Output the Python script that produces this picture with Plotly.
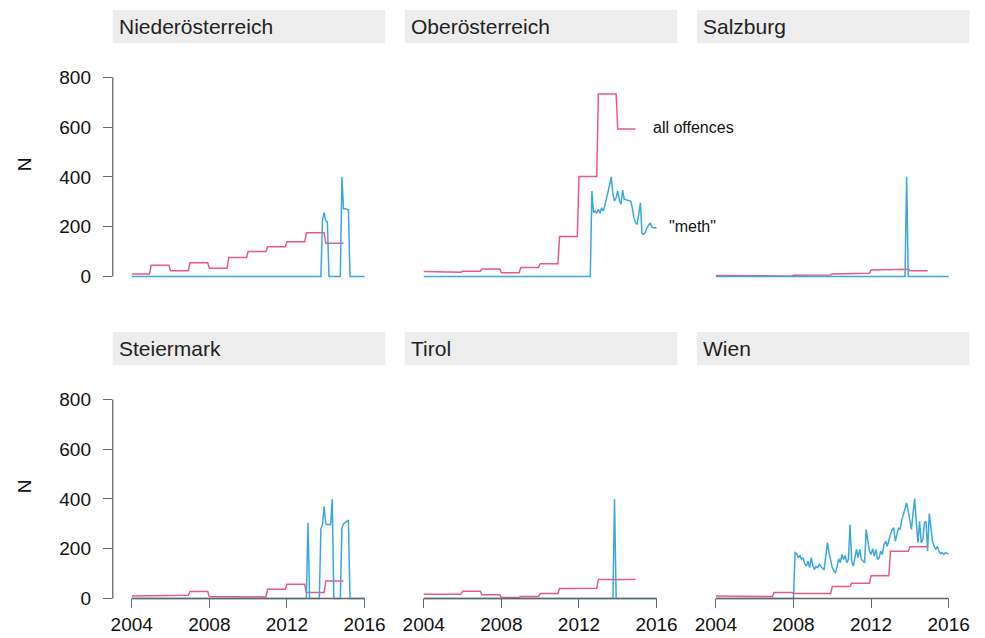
import plotly.graph_objects as go

# regions (facet order, row by row)
regions = ["Niederösterreich", "Oberösterreich", "Salzburg",
           "Steiermark", "Tirol", "Wien"]

years = list(range(2004, 2015))

# "all offences": yearly counts 2004-2014
offences = {
    "Niederösterreich": [10, 45, 23, 55, 33, 76, 100, 119, 139, 175, 133],
    "Oberösterreich": [20, 17, 21, 30, 15, 36, 51, 160, 401, 733, 592],
    "Salzburg": [4, 1, 1, 1, 5, 6, 10, 13, 26, 29, 23],
    "Steiermark": [10, 13, 13, 28, 8, 6, 6, 37, 57, 24, 70],
    "Tirol": [17, 17, 29, 15, 4, 8, 20, 40, 41, 76, 76],
    "Wien": [10, 10, 8, 24, 20, 20, 48, 61, 91, 190, 208],
}

# "meth": monthly counts Jan 2004 - Jan 2016 (145 months)
meth = {
    "Niederösterreich": [0] * 118 + [229, 256, 223, 219] + [0] * 8
                        + [400, 272, 272, 270, 268] + [0] * 10,
    "Oberösterreich": [0] * 104 + [343, 256, 263, 254, 270, 254, 276, 263, 285, 310,
                                   336, 369, 400, 330, 303, 316, 343, 305, 290, 347,
                                   310, 307, 306, 305, 303, 275, 235, 215, 210, 250,
                                   296, 172, 170, 175, 195, 205, 215, 200, 196, 196,
                                   196],
    "Salzburg": [0] * 118 + [400] + [0] * 26,
    "Steiermark": [0] * 109 + [304] + [0] * 7
                  + [280, 297, 370, 300, 297, 297, 297, 400] + [0] * 5
                  + [284, 300, 305, 312, 315] + [0] * 10,
    "Tirol": [0] * 118 + [400] + [0] * 26,
    "Wien": [0] * 49 + [184, 180, 164, 173, 157, 164, 140, 130, 150, 124,
                        164, 130, 117, 128, 124, 137, 130, 120, 117, 170,
                        224, 184, 150, 124, 110, 104, 128, 160, 144, 177,
                        157, 173, 144, 157, 297, 150, 130, 170, 197, 164,
                        197, 157, 150, 144, 277, 224, 190,
                        177, 200, 170, 197, 157, 164, 190, 177, 217, 230,
                        210, 237, 257, 277, 284, 230, 257, 284, 277, 317,
                        337, 364, 384, 351, 304, 277, 344, 401, 304, 224,
                        310, 224, 237, 304, 310, 190, 341, 290, 230, 210,
                        197, 210, 190, 181, 184, 177, 184, 181, 181],
}

y_ticks = [0, 200, 400, 600, 800]
x_ticks = [2004, 2008, 2012, 2016]

PINK = "#e7598a"
BLUE = "#3aa8de"
AXIS = "#666666"
FONT = "Liberation Sans, Arial, Helvetica, sans-serif"
W, H = 985, 638

months_x = [2004 + m / 12 for m in range(145)]
off_x = [y + m / 12 for y in years for m in range(12)]

# panel geometry in pixels
col_px = [(111, 384), (403.6, 676.6), (696.3, 969.3)]
row_px = [(45, 285), (368.6, 608.6)]
strip_px = [(10, 43.3), (333.6, 366.9)]
x_range = [2003.023, 2017.065]
y_range = [-29.2, 930.8]

fig = go.Figure()
layout = dict(
    width=W, height=H, margin=dict(l=0, r=0, t=0, b=0),
    paper_bgcolor="white", plot_bgcolor="white", showlegend=False,
    font=dict(family=FONT, color="#111111"),
)
shapes, annotations = [], []

for i, reg in enumerate(regions):
    r, c = divmod(i, 3)
    k = "" if i == 0 else str(i + 1)
    x0, x1 = col_px[c]
    y0, y1 = row_px[r]
    s0, s1 = strip_px[r]
    xa, ya = "x" + k, "y" + k

    fig.add_trace(go.Scatter(
        x=off_x, y=[v for v in offences[reg] for _ in range(12)],
        mode="lines", line=dict(color=PINK, width=1.5),
        xaxis=xa, yaxis=ya, name="all offences"))
    fig.add_trace(go.Scatter(
        x=months_x, y=meth[reg], mode="lines",
        line=dict(color=BLUE, width=1.5),
        xaxis=xa, yaxis=ya, name="meth"))

    xdict = dict(domain=[x0 / W, x1 / W], range=x_range, anchor=ya,
                 showgrid=False, zeroline=False, showline=False,
                 tickvals=x_ticks, showticklabels=False, ticks="")
    ydict = dict(domain=[1 - y1 / H, 1 - y0 / H], range=y_range, anchor=xa,
                 showgrid=False, zeroline=False, showline=False,
                 tickvals=y_ticks, showticklabels=False, ticks="")
    if r == 1:
        # axis sits on the zero line of the panel
        zero_px = y1 - 29.2 / (y_range[1] - y_range[0]) * (y1 - y0)
        xdict.update(anchor="free", position=1 - zero_px / H,
                     showticklabels=True, ticks="outside", ticklen=9,
                     tickwidth=1.3, tickcolor=AXIS,
                     tickfont=dict(size=19, color="#111111"))
        shapes.append(dict(type="line", xref=xa, yref=ya,
                           x0=x_ticks[0], x1=x_ticks[-1], y0=0, y1=0,
                           line=dict(color=AXIS, width=1.3), layer="above"))
    if c == 0:
        ydict.update(showticklabels=True, ticks="outside", ticklen=9,
                     tickwidth=1.3, tickcolor=AXIS, ticklabelstandoff=8,
                     tickfont=dict(size=19, color="#111111"))
        shapes.append(dict(type="line", xref=xa + " domain", yref=ya,
                           x0=0, x1=0, y0=y_ticks[0], y1=y_ticks[-1],
                           line=dict(color=AXIS, width=1.3), layer="above"))
        annotations.append(dict(text="N", x=22 / W, y=1 - (y0 + y1) / 2 / H,
                                xref="paper", yref="paper", showarrow=False,
                                xanchor="center", yanchor="middle",
                                textangle=-90, font=dict(size=19, color="#111111")))
    layout["xaxis" + k] = xdict
    layout["yaxis" + k] = ydict

    # facet strip
    shapes.append(dict(type="rect", xref="paper", yref="paper",
                       x0=x0 / W, x1=x1 / W, y0=1 - s1 / H, y1=1 - s0 / H,
                       fillcolor="#ededed", line=dict(width=0), layer="below"))
    annotations.append(dict(text=reg, x=(x0 + 4) / W, y=1 - (s0 + s1) / 2 / H,
                            xref="paper", yref="paper", xanchor="left",
                            yanchor="middle", showarrow=False,
                            font=dict(size=21, color="#222222")))

# direct line labels in the Oberösterreich panel
annotations.append(dict(text="all offences", x=2015.7, y=600, xref="x2", yref="y2",
                        xanchor="left", showarrow=False,
                        font=dict(size=16, color="#111111")))
annotations.append(dict(text='"meth"', x=2016.52, y=200, xref="x2", yref="y2",
                        xanchor="left", showarrow=False,
                        font=dict(size=16, color="#111111")))

layout["shapes"] = shapes
layout["annotations"] = annotations
fig.update_layout(**layout)

# drop the browser's default body margin so the figure fills the window
fig.write_html("out.html", config={"displayModeBar": False},
               post_script="document.body.style.margin='0';")
